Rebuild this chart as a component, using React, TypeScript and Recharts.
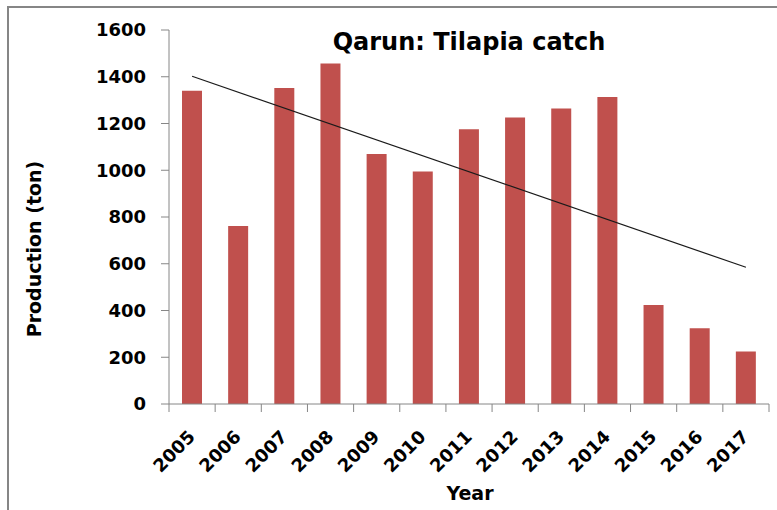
import { ComposedChart, Bar, Line, XAxis, YAxis, Label } from "recharts";

const years = ["2005", "2006", "2007", "2008", "2009", "2010", "2011", "2012", "2013", "2014", "2015", "2016", "2017"];
const tilapiaCatch = [1340, 762, 1352, 1457, 1070, 995, 1175, 1226, 1264, 1313, 423, 324, 225];
// linear trend, only the two ends
const trend = [1402, null, null, null, null, null, null, null, null, null, null, null, 585];
const yTicks = [0, 200, 400, 600, 800, 1000, 1200, 1400, 1600];

const data = years.map((year, i) => ({ year, value: tilapiaCatch[i], trend: trend[i] }));

const FONT = "'DejaVu Sans', sans-serif";
const AXIS = "#868686";

function YearTick(props: any) {
  const { x, y, payload, index, visibleTicksCount } = props;
  const half = payload?.offset ?? 23;
  const last = index === visibleTicksCount - 1;
  const tx = x + 4;
  const ty = y + 34;
  return (
    <g>
      <line x1={x - half} y1={y} x2={x - half} y2={y + 8} stroke={AXIS} />
      {last && <line x1={x + half} y1={y} x2={x + half} y2={y + 8} stroke={AXIS} />}
      <text
        x={tx}
        y={ty}
        transform={`rotate(-45 ${tx} ${ty})`}
        textAnchor="end"
        fontFamily={FONT}
        fontWeight="bold"
        fontSize={18}
        fill="#000"
      >
        {payload.value}
      </text>
    </g>
  );
}

export default function App() {
  return (
    <div
      style={{
        position: "absolute",
        left: 7,
        top: 6,
        width: 770,
        height: 502,
        borderLeft: `2px solid ${AXIS}`,
        borderTop: `2px solid ${AXIS}`,
        background: "#fff",
      }}
    >
      <ComposedChart
        width={768}
        height={500}
        data={data}
        margin={{ top: 22, right: 8, bottom: 0, left: 0 }}
      >
        <text
          x={460}
          y={42}
          textAnchor="middle"
          fontFamily={FONT}
          fontWeight="bold"
          fontSize={24}
          fill="#000"
        >
          Qarun: Tilapia catch
        </text>
        <XAxis
          dataKey="year"
          height={104}
          stroke={AXIS}
          tickLine={false}
          tickSize={0}
          tickMargin={0}
          interval={0}
          tick={<YearTick />}
        >
          <Label
            content={() => (
              <text x={461} y={492} textAnchor="middle" fontFamily={FONT} fontWeight="bold" fontSize={19} fill="#000">
                Year
              </text>
            )}
          />
        </XAxis>
        <YAxis
          width={160}
          domain={[0, 1600]}
          ticks={yTicks}
          interval={0}
          stroke={AXIS}
          tickSize={8}
          tickMargin={15}
          tick={{ fill: "#000", fontFamily: FONT, fontWeight: "bold", fontSize: 18 }}
        >
          <Label
            content={() => (
              <text
                x={32}
                y={241}
                transform="rotate(-90 32 241)"
                textAnchor="middle"
                fontFamily={FONT}
                fontWeight="bold"
                fontSize={19}
                fill="#000"
              >
                Production (ton)
              </text>
            )}
          />
        </YAxis>
        <Bar dataKey="value" fill="#C0504D" barSize={20} isAnimationActive={false} />
        <Line
          dataKey="trend"
          stroke="#1a1a1a"
          strokeWidth={1.2}
          dot={false}
          connectNulls
          isAnimationActive={false}
        />
      </ComposedChart>
    </div>
  );
}
